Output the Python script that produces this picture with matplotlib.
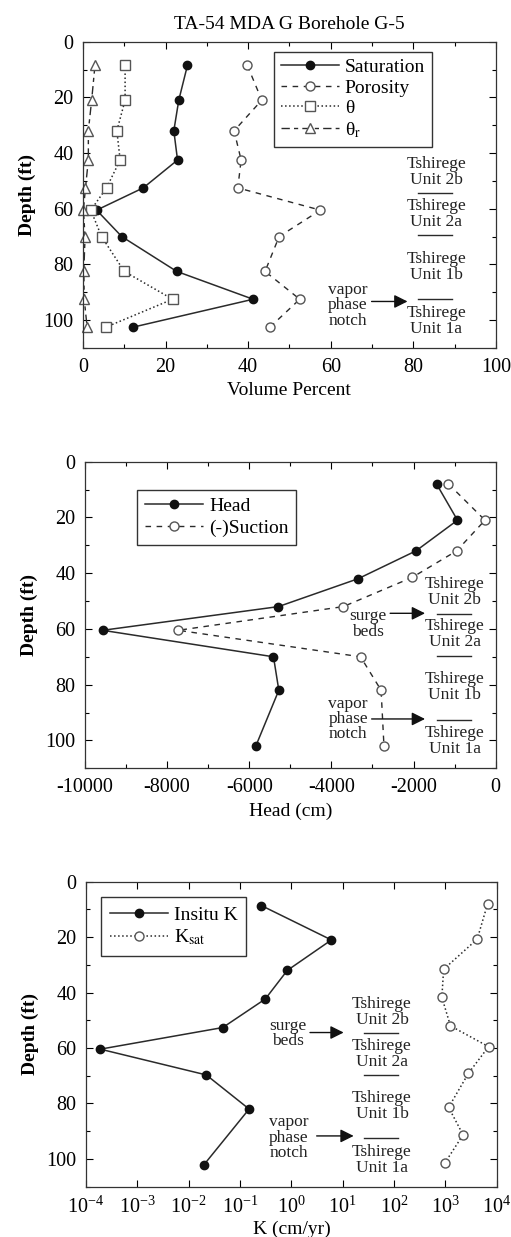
import matplotlib
matplotlib.use("Agg")
import matplotlib.pyplot as plt
from matplotlib.ticker import MultipleLocator

plt.rcParams['font.family'] = ['Liberation Serif', 'DejaVu Serif']
plt.rcParams['mathtext.fontset'] = 'stix'
plt.rcParams['axes.unicode_minus'] = False

# ---- data ----
depth = [8.5, 21, 32, 42.5, 52.5, 60.5, 70, 82.5, 92.5, 102.5]
saturation = [25.3, 23.2, 22.0, 22.9, 14.6, 3.3, 9.4, 22.7, 41.2, 12.2]
porosity = [39.8, 43.3, 36.6, 38.3, 37.5, 57.5, 47.5, 44.1, 52.5, 45.3]
theta = [10.2, 10.2, 8.2, 9.0, 5.7, 1.9, 4.5, 10.0, 21.7, 5.6]
theta_r = [2.9, 2.1, 1.3, 1.3, 0.6, 0.1, 0.5, 0.2, 0.3, 1.0]

head_depth = [8, 21, 32, 42, 52, 60.5, 70, 82, 102]
head = [-1440, -930, -1940, -3350, -5290, -9570, -5410, -5280, -5840]
suction_depth = [8, 21, 32, 41.5, 52, 60.5, 70, 82, 102]
suction = [-1150, -260, -950, -2030, -3710, -7730, -3290, -2790, -2720]

k_depth = [8.6, 21, 32, 42.3, 52.6, 60.4, 69.7, 82, 102.2]
insitu_k = [0.26, 6.0, 0.83, 0.31, 0.046, 1.9e-4, 0.022, 0.15, 0.0196]
ksat_depth = [8, 20.7, 31.6, 41.7, 52, 59.5, 69.1, 81.4, 91.3, 101.6]
ksat = [6600, 4150, 920, 850, 1250, 6900, 2800, 1150, 2200, 960]

units = ["Tshirege\nUnit 2b", "Tshirege\nUnit 2a", "Tshirege\nUnit 1b", "Tshirege\nUnit 1a"]
unit_depths = [46.9, 62.0, 81.0, 100.3]
contact_depths = [54.5, 69.6, 92.5]

line_col = '#2a2a2a'
tick_fs = 14.5
lab_fs = 14
leg_fs = 14
ann_fs = 12.5

fig = plt.figure(figsize=(5.11, 12.37), dpi=100)
ax1 = fig.add_axes([0.1624, 0.7187, 0.808, 0.2476])
ax2 = fig.add_axes([0.1663, 0.3789, 0.8037, 0.2479])
ax3 = fig.add_axes([0.1683, 0.0407, 0.804, 0.2465])


def style_depth_axis(ax):
    ax.set_ylim(110, 0)
    ax.yaxis.set_major_locator(MultipleLocator(20))
    ax.yaxis.set_minor_locator(MultipleLocator(10))
    ax.set_ylabel('Depth (ft)', fontsize=lab_fs, fontweight='bold', labelpad=5)
    ax.tick_params(which='both', direction='in', top=True, right=True,
                   labelsize=tick_fs, pad=7)
    ax.tick_params(which='major', length=5, width=0.8)
    ax.tick_params(which='minor', length=3, width=0.8)
    for s in ax.spines.values():
        s.set_linewidth(0.9)
        s.set_color('#333333')


def add_units(ax, xc, x0, x1):
    for txt, d in zip(units, unit_depths):
        ax.text(xc, d, txt, ha='center', va='center', fontsize=ann_fs,
                linespacing=1.0, color='#222222')
    for d in contact_depths:
        ax.plot([x0, x1], [d, d], color=line_col, lw=1.0)


def add_arrow(ax, label, xt, yt, xa0, xa1, ya):
    ax.text(xt, yt, label, ha='center', va='center', fontsize=ann_fs,
            linespacing=0.95, color='#222222')
    ax.annotate('', xy=(xa1, ya), xytext=(xa0, ya),
                arrowprops=dict(arrowstyle='-|>', color='#111111', lw=1.0,
                                mutation_scale=20, shrinkA=0, shrinkB=0))


# ---- panel 1: volume percent ----
ax1.plot(saturation, depth, '-', color=line_col, lw=1.1, marker='o', ms=6,
         mfc='#111111', mec='#111111', label='Saturation')
ax1.plot(porosity, depth, '--', color=line_col, lw=1.0, dashes=(4, 4), marker='o',
         ms=6.5, mfc='white', mec='#555555', label='Porosity')
ax1.plot(theta, depth, ':', color=line_col, lw=1.1, marker='s', ms=6.5,
         mfc='white', mec='#555555', label='θ')
ax1.plot(theta_r, depth, color=line_col, lw=1.0, dashes=(6, 3, 3, 3), marker='^',
         ms=6.5, mfc='white', mec='#555555', label=r'θ$_{\mathrm{r}}$', clip_on=False)
ax1.set_xlim(0, 100)
ax1.xaxis.set_major_locator(MultipleLocator(20))
ax1.xaxis.set_minor_locator(MultipleLocator(10))
ax1.set_xlabel('Volume Percent', fontsize=lab_fs, labelpad=4)
ax1.set_title('TA-54 MDA G Borehole G-5', fontsize=14, pad=9)
style_depth_axis(ax1)
add_units(ax1, 85.6, 81.1, 89.3)
add_arrow(ax1, 'vapor\nphase\nnotch', 64.2, 94.7, 69.9, 78.6, 93.3)
leg = ax1.legend(loc='upper left', bbox_to_anchor=(0.462, 0.967), fontsize=leg_fs,
                 handlelength=3.0, handletextpad=0.3, borderpad=0.35,
                 labelspacing=0.15, fancybox=False, framealpha=1,
                 edgecolor='#333333', borderaxespad=0)
leg.get_frame().set_linewidth(1.0)

# ---- panel 2: head ----
ax2.plot(head, head_depth, '-', color=line_col, lw=1.1, marker='o', ms=6,
         mfc='#111111', mec='#111111', label='Head')
ax2.plot(suction, suction_depth, color=line_col, lw=1.0, dashes=(4, 4), marker='o',
         ms=6.5, mfc='white', mec='#555555', label='(-)Suction')
ax2.set_xlim(-10000, 0)
ax2.xaxis.set_major_locator(MultipleLocator(2000))
ax2.xaxis.set_minor_locator(MultipleLocator(1000))
ax2.set_xlabel('Head (cm)', fontsize=lab_fs, labelpad=4)
style_depth_axis(ax2)
add_units(ax2, -1000, -1420, -590)
add_arrow(ax2, 'surge\nbeds', -3100, 58.3, -2570, -1720, 54.4)
add_arrow(ax2, 'vapor\nphase\nnotch', -3590, 92.3, -3020, -1720, 92.3)
leg = ax2.legend(loc='upper left', bbox_to_anchor=(0.127, 0.908), fontsize=leg_fs,
                 handlelength=3.0, handletextpad=0.3, borderpad=0.4,
                 labelspacing=0.2, fancybox=False, framealpha=1,
                 edgecolor='#333333', borderaxespad=0)
leg.get_frame().set_linewidth(1.0)

# ---- panel 3: hydraulic conductivity ----
ax3.plot(insitu_k, k_depth, '-', color=line_col, lw=1.1, marker='o', ms=6,
         mfc='#111111', mec='#111111', label='Insitu K')
ax3.plot(ksat, ksat_depth, ':', color=line_col, lw=1.1, marker='o', ms=6.5,
         mfc='white', mec='#555555', label=r'K$_{\mathrm{sat}}$')
ax3.set_xscale('log')
ax3.set_xlim(1e-4, 1e4)
ax3.set_xticks([10.0 ** e for e in range(-4, 5)])
ax3.set_xlabel('K (cm/yr)', fontsize=lab_fs, labelpad=2)
style_depth_axis(ax3)
add_units(ax3, 58, 25.5, 117)
add_arrow(ax3, 'surge\nbeds', 0.87, 54.8, 2.3, 10.4, 54.4)
add_arrow(ax3, 'vapor\nphase\nnotch', 0.9, 92.3, 3.1, 16.3, 91.7)
leg = ax3.legend(loc='upper left', bbox_to_anchor=(0.036, 0.949), fontsize=leg_fs,
                 handlelength=3.0, handletextpad=0.3, borderpad=0.45,
                 labelspacing=0.2, fancybox=False, framealpha=1,
                 edgecolor='#333333', borderaxespad=0)
leg.get_frame().set_linewidth(1.0)

fig.savefig('out.png', dpi=100)
